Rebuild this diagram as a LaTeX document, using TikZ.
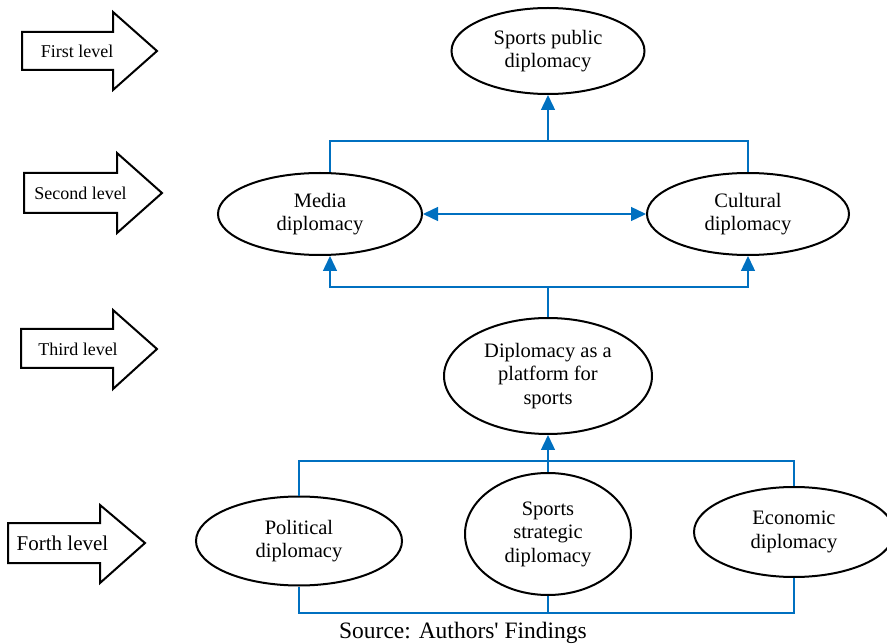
\documentclass[tikz,border=0pt]{standalone}
\usepackage{fontspec}
\setmainfont{Liberation Serif}
\newfontfamily\srcfont{Liberation Serif}[Ligatures=TeXOff]
\usetikzlibrary{shapes.geometric,arrows.meta}
\definecolor{connblue}{RGB}{0,112,192}
\begin{document}
\begin{tikzpicture}[x=1pt,y=-1pt,
  oval/.style={draw, ellipse, line width=2pt, inner sep=0pt, align=center, font=\fontsize{20.5}{23.5}\selectfont},
  conn/.style={draw=connblue, line width=1.4pt},
  tipped/.style={-{Triangle[length=15pt,width=14pt]}},
  lvl/.style={draw, line width=2pt, fill=white, line join=miter},
  lvltext/.style={font=\fontsize{18}{20}\selectfont, inner sep=0pt}]
\useasboundingbox (0,0) rectangle (887,644);

% level arrows
\draw[lvl] (22,32) -- (113,32) -- (113,12) -- (157,51) -- (113,90) -- (113,70) -- (22,70) -- cycle;
\node[lvltext] (l1) at (77,51) {First level};
\draw[lvl] (24,173) -- (117,173) -- (117,153) -- (162,193) -- (117,233) -- (117,213) -- (24,213) -- cycle;
\node[lvltext] (l2) at (80.5,193) {Second level};
\draw[lvl] (21,329) -- (113,329) -- (113,310) -- (157,349) -- (113,389) -- (113,368) -- (21,368) -- cycle;
\node[lvltext] (l3) at (78,349) {Third level};
\draw[lvl] (8,523) -- (100,523) -- (100,505) -- (145,543) -- (100,583) -- (100,563) -- (8,563) -- cycle;
\node[lvltext, font=\fontsize{21}{23}\selectfont] (l4) at (62.5,543) {Forth level};

% ellipses
\node[oval, minimum width=193pt, minimum height=86pt] (spd) at (548,51) {Sports public\\diplomacy};
\node[oval, minimum width=204pt, minimum height=82pt] (media) at (320,214) {Media\\diplomacy};
\node[oval, minimum width=202pt, minimum height=82pt] (cult) at (748,214) {Cultural\\diplomacy};
\node[oval, minimum width=208pt, minimum height=116pt] (plat) at (548,376) {Diplomacy as a\\platform for\\sports};
\node[oval, minimum width=206pt, minimum height=89pt] (pol) at (299,541) {Political\\diplomacy};
\node[oval, minimum width=166pt, minimum height=122pt] (strat) at (548,534) {Sports\\strategic\\diplomacy};
\node[oval, minimum width=200pt, minimum height=90pt] (econ) at (794,532) {Economic\\diplomacy};

% junctions
\coordinate (j1) at (548,141);
\coordinate (j2) at (548,287);
\coordinate (j3) at (548,461);
\coordinate (j4) at (548,613);

% connectors
\draw[conn] ([xshift=10pt]media.north) |- (j1) -| (cult.north);
\draw[conn, tipped] (j1) -- (spd.south);
\draw[conn, {Triangle[length=15pt,width=14pt]}-{Triangle[length=15pt,width=14pt]}] (media.east) -- (cult.west);
\draw[conn] (plat.north) -- (j2);
\draw[conn, tipped] (j2) -| ([xshift=10pt]media.south);
\draw[conn, tipped] (j2) -| (cult.south);
\draw[conn] (pol.north) |- (j3) -| (econ.north);
\draw[conn, tipped] (strat.north) -- (plat.south);
\draw[conn] (pol.south) |- (j4) -| (econ.south);
\draw[conn] (strat.south) -- (j4);

% source
\node[font=\srcfont\fontsize{23.5}{26}\selectfont, inner sep=0pt] (src) at (463,633) {Source: Authors' Findings};
\end{tikzpicture}
\end{document}
